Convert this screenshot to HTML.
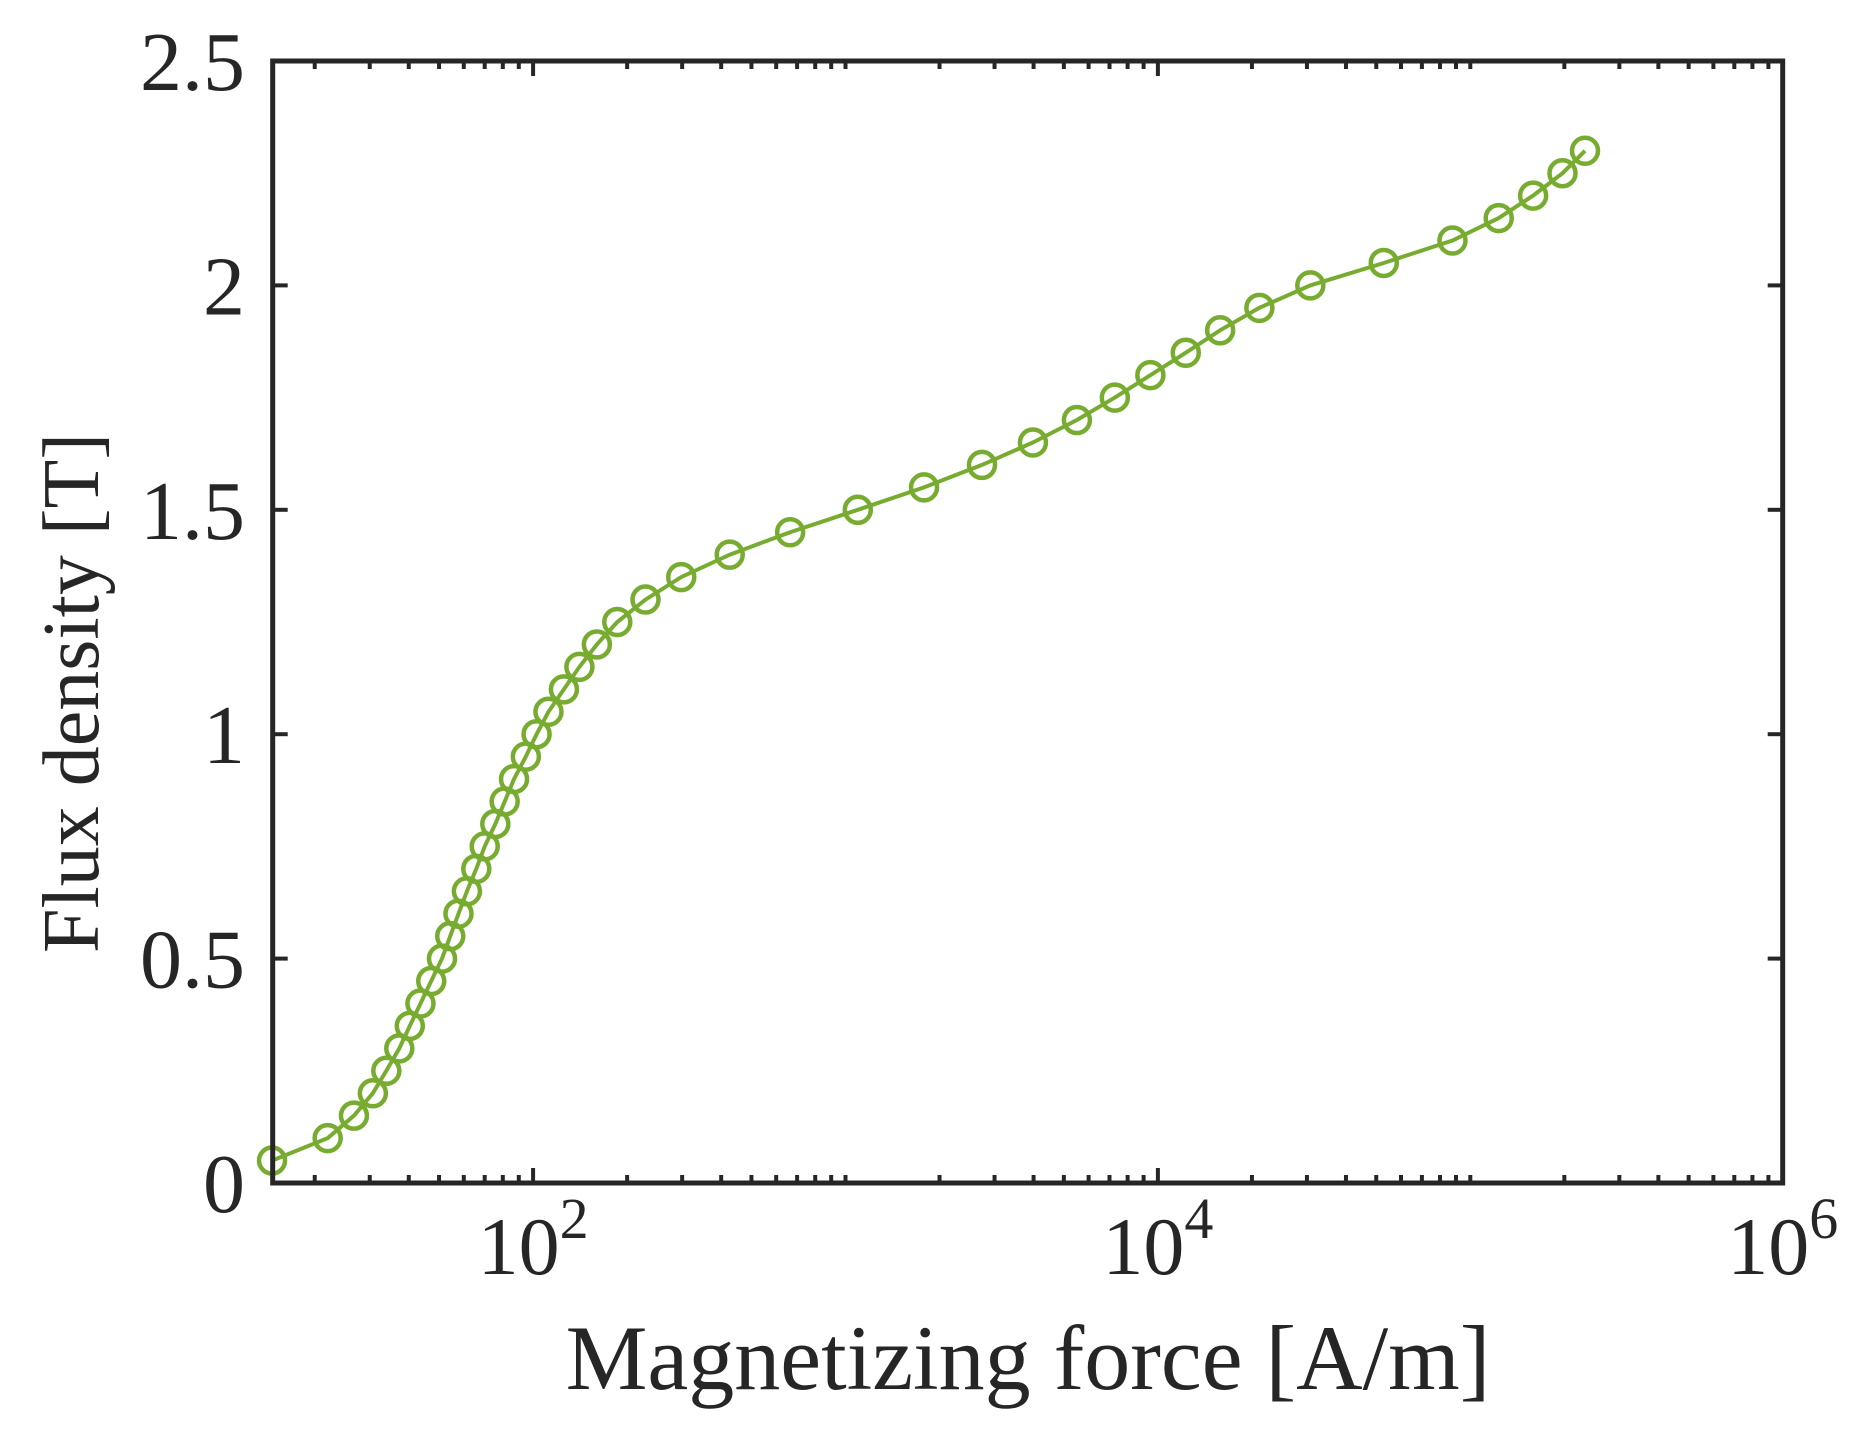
<!DOCTYPE html>
<html><head><meta charset="utf-8"><style>
html,body{margin:0;padding:0;background:#fff;}
svg{display:block;}
text{font-family:"Liberation Serif",serif;fill:#262626;}
</style></head><body>
<svg id="chart" width="1858" height="1438" viewBox="0 0 1858 1438" xmlns="http://www.w3.org/2000/svg">
<g id="ticks"></g>
<g id="series"></g>
<rect x="272.7" y="61" width="1510" height="1122" fill="none" stroke="#262626" stroke-width="5"/>
<g id="labels"></g>
<text x="1028" y="1389" font-size="92" text-anchor="middle">Magnetizing force [A/m]</text>
<text transform="translate(98,693) rotate(-90)" font-size="80" text-anchor="middle">Flux density [T]</text>
</svg>
<script>
const hValues=[14.6,22,26.7,30.7,33.9,37.3,40.3,43.6,47.2,51.1,54.3,57.7,61.4,65.8,70,75.7,81.1,86.9,94.8,102.6,112,125.5,140.7,160,186,229,298,426,665,1095,1784,2735,3981,5505,7280,9460,12280,15820,21130,30760,52840,87700,123300,158900,197300,232900];
const bValues=[0.05,0.1,0.15,0.2,0.25,0.3,0.35,0.4,0.45,0.5,0.55,0.6,0.65,0.7,0.75,0.8,0.85,0.9,0.95,1.0,1.05,1.1,1.15,1.2,1.25,1.3,1.35,1.4,1.45,1.5,1.55,1.6,1.65,1.7,1.75,1.8,1.85,1.9,1.95,2.0,2.05,2.1,2.15,2.2,2.25,2.3];
const yTicks=[0,0.5,1,1.5,2,2.5];
const yTickLabels=["0","0.5","1","1.5","2","2.5"];
const xMajorExps=[2,4,6];

const L=272.7,R=1782.7,T=61,B=1183;
const lxMin=1.1665,lxMax=6;
const NS="http://www.w3.org/2000/svg";
function xs(v){return L+(Math.log10(v)-lxMin)/(lxMax-lxMin)*(R-L);}
function ys(v){return B-v/2.5*(B-T);}
function mk(tag,attrs,parent){const e=document.createElementNS(NS,tag);for(const k in attrs)e.setAttribute(k,attrs[k]);parent.appendChild(e);return e;}

const tg=document.getElementById('ticks');
const lg=document.getElementById('labels');
for(let d=1;d<=5;d++){
  for(let m=1;m<=9;m++){
    const v=m*Math.pow(10,d);
    if(Math.log10(v)<lxMin-1e-9)continue;
    const x=xs(v);
    const major=(m===1&&d%2===0);
    const len=major?15:8;
    const t1=mk('line',{x1:x,x2:x,y1:B,y2:B-len,stroke:'#262626','stroke-width':4},tg);
    
    
    const t2=mk('line',{x1:x,x2:x,y1:T,y2:T+len,stroke:'#262626','stroke-width':4},tg);
    
    
  }
}
xMajorExps.forEach(e=>{
  const x=xs(Math.pow(10,e));
  const t=mk('text',{x:x,y:1274,'font-size':82,'text-anchor':'middle'},lg);
  
  
  t.appendChild(document.createTextNode('10'));
  const s=mk('tspan',{'font-size':58,dy:-36},t);
  s.textContent=String(e);
});
yTicks.forEach((v,i)=>{
  const y=ys(v);
  const a=mk('line',{x1:L,x2:L+15,y1:y,y2:y,stroke:'#262626','stroke-width':4},tg);
  
  
  const b=mk('line',{x1:R,x2:R-15,y1:y,y2:y,stroke:'#262626','stroke-width':4},tg);
  
  
  const t=mk('text',{x:245,y:y+29,'font-size':84,'text-anchor':'end'},lg);
  
  
  t.textContent=yTickLabels[i];
});
const sg=document.getElementById('series');
const pts=hValues.map((h,i)=>xs(h).toFixed(1)+','+ys(bValues[i]).toFixed(1)).join(' ');
const pl=mk('polyline',{points:pts,fill:'none',stroke:'#77ac30','stroke-width':4},sg);


hValues.forEach((h,i)=>{
  const c=mk('circle',{cx:xs(h),cy:ys(bValues[i]),r:13,fill:'none',stroke:'#77ac30','stroke-width':4.5},sg);
  
  
});
</script>
</body></html>
